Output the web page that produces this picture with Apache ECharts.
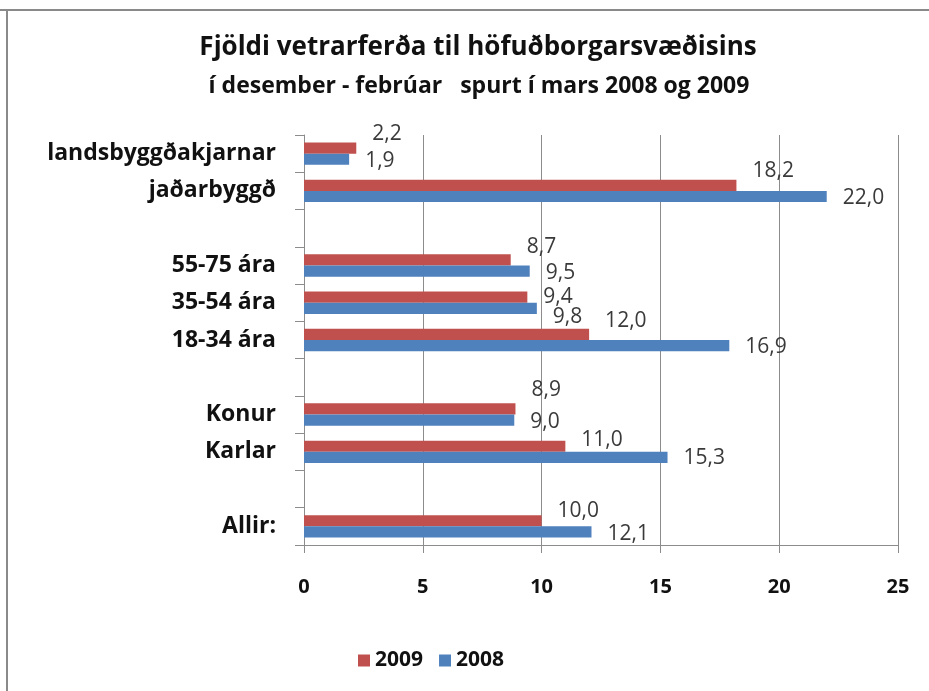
<!DOCTYPE html>
<html>
<head>
<meta charset="utf-8">
<script src="https://cdn.jsdelivr.net/npm/echarts@6/dist/echarts.min.js"></script>
<style>
  html, body { margin: 0; padding: 0; background: #fff; }
  #chart { width: 929px; height: 691px; }
</style>
</head>
<body>
<div id="chart"></div>
<script>
// flokkar, ofan frá og niður (auðir flokkar eru bil á milli hópa)
const categories = ['landsbyggðakjarnar', 'jaðarbyggð', ' ', '55-75 ára', '35-54 ára', '18-34 ára', '  ', 'Konur', 'Karlar', '   ', 'Allir:'];
const seriesNames = ['2009', '2008'];
// lengd súlna eins og hún sést á myndinni
const values2009 = [2.2, 18.2, null, 8.7, 9.4, 12.0, null, 8.9, 11.0, null, 10.0];
const values2008 = [1.9, 22.0, null, 9.5, 9.8, 17.9, null, 8.85, 15.3, null, 12.1];
// gildismerkin eins og þau standa í myndinni
const labels2009 = ['2,2', '18,2', '', '8,7', '9,4', '12,0', '', '8,9', '11,0', '', '10,0'];
const labels2008 = ['1,9', '22,0', '', '9,5', '9,8', '16,9', '', '9,0', '15,3', '', '12,1'];
const xTicks = [0, 5, 10, 15, 20, 25];

// lóðrétt hliðrun merkja (px), Excel færði sum merkin til
const shift2009 = [-14, -14, 0, -13, 0, -13, 0, -19, -6, 0, -10];
const shift2008 = [2, 2, 0, 2, 9, 1, 0, 2, 1, 0, 2];

const FONT = 'Open Sans';
const red = '#C0504D';
const blue = '#4F81BD';

let myChart = echarts.init(document.getElementById('chart'));

function barSeries(name, data, texts, shifts, color) {
    return {
        name: name,
        type: 'bar',
        data: data.map(function (v, i) {
            return { value: v, label: { offset: [0, shifts[i]] } };
        }),
        barGap: '0%',
        barCategoryGap: '40%',
        itemStyle: { color: color },
        label: {
            show: true,
            position: 'right',
            distance: 16,
            fontFamily: FONT,
            fontSize: 21,
            color: '#3a3a3a',
            formatter: function (p) { return texts[p.dataIndex]; }
        }
    };
}

var option = {
    backgroundColor: '#fff',
    animation: false,
    textStyle: { fontFamily: FONT },
    title: [
        {
            text: 'Fjöldi vetrarferða til höfuðborgarsvæðisins',
            left: 473, top: 30, textAlign: 'center',
            textStyle: { fontFamily: FONT, fontSize: 26, fontWeight: 'bold', color: '#111' }
        },
        {
            text: 'í desember - febrúar   spurt í mars 2008 og 2009',
            left: 474, top: 70, textAlign: 'center',
            textStyle: { fontFamily: FONT, fontSize: 23, fontWeight: 'bold', color: '#111' }
        }
    ],
    legend: {
        data: seriesNames,
        left: 353, top: 645,
        itemWidth: 12, itemHeight: 12, itemGap: 16,
        icon: 'rect',
        textStyle: { fontFamily: FONT, fontSize: 21, fontWeight: 'bold', color: '#111' }
    },
    grid: { left: 304, right: 31, top: 135, bottom: 146 },
    xAxis: {
        type: 'value',
        min: xTicks[0], max: xTicks[xTicks.length - 1], interval: 5,
        axisLine: { show: true, lineStyle: { color: '#8c8c8c', width: 1 } },
        axisTick: { show: true, length: 8, lineStyle: { color: '#8c8c8c' } },
        splitLine: { show: true, lineStyle: { color: '#8c8c8c', width: 1 } },
        axisLabel: { margin: 32, fontFamily: FONT, fontSize: 20, fontWeight: 'bold', color: '#111' }
    },
    yAxis: {
        type: 'category',
        inverse: true,
        data: categories,
        axisLine: { show: true, lineStyle: { color: '#8c8c8c' } },
        axisTick: { show: true, length: 9, lineStyle: { color: '#8c8c8c' } },
        axisLabel: { margin: 28, fontFamily: FONT, fontSize: 23, fontWeight: 'bold', color: '#111' }
    },
    graphic: [
        // rammi utan um myndina (bara efri og vinstri brún sjást)
        { type: 'line', shape: { x1: 0, y1: 10, x2: 929, y2: 10 }, style: { stroke: '#8a8a8a', lineWidth: 2 } },
        { type: 'line', shape: { x1: 7, y1: 10, x2: 7, y2: 691 }, style: { stroke: '#8a8a8a', lineWidth: 2 } }
    ],
    series: [
        barSeries(seriesNames[0], values2009, labels2009, shift2009, red),
        barSeries(seriesNames[1], values2008, labels2008, shift2008, blue)
    ]
};

myChart.setOption(option);
</script>
</body>
</html>
